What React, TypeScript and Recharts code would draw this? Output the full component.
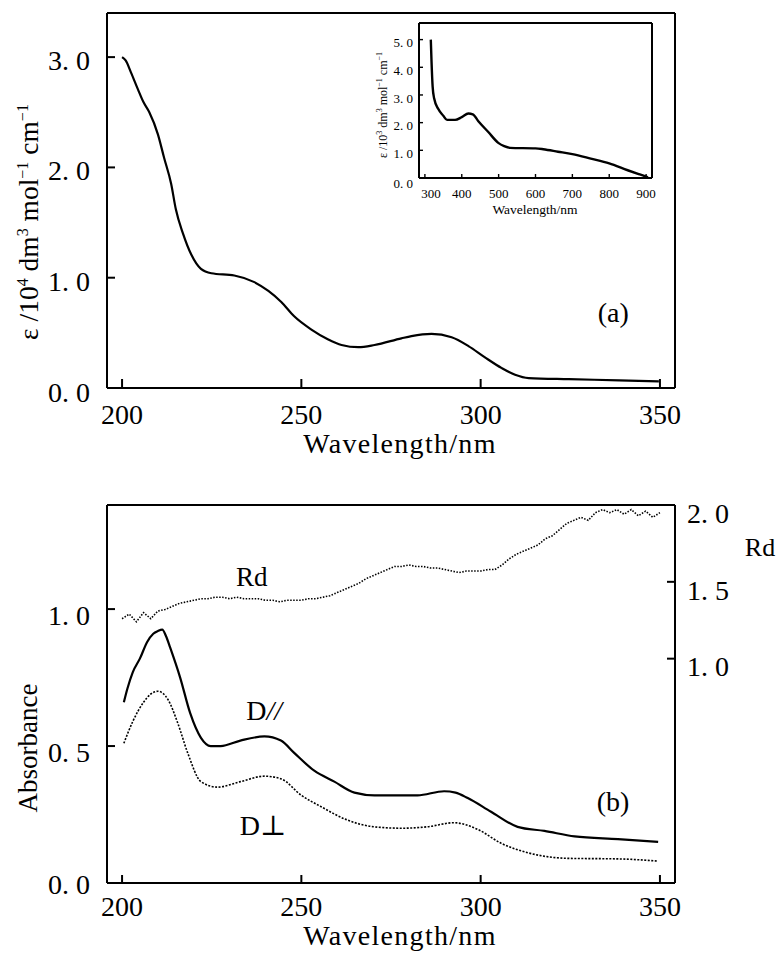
import React from 'react';
import { LineChart, Line, XAxis, YAxis, ReferenceDot } from 'recharts';

const FONT = "'Liberation Serif', 'Times New Roman', 'DejaVu Serif', serif";

// ---------- Panel (a): main spectrum ----------
const wavelengthA = [200, 201, 202.5, 204.4, 206, 207.6, 210, 211.7, 213.7, 215, 217, 219.3, 222, 224.9, 231.3, 236.9, 240.8, 244.4, 248, 252.8, 257.5, 261.2, 265.9, 270.4, 277.9, 280.7, 286.3, 291.9, 296.6, 301.1, 305.9, 309.6, 313.4, 324.6, 338.6, 349.7];
const epsilonA = [3.0, 2.97, 2.86, 2.71, 2.59, 2.5, 2.3, 2.09, 1.85, 1.62, 1.4, 1.21, 1.08, 1.04, 1.02, 0.96, 0.88, 0.78, 0.65, 0.53, 0.44, 0.39, 0.37, 0.39, 0.45, 0.47, 0.49, 0.46, 0.38, 0.28, 0.18, 0.12, 0.09, 0.08, 0.07, 0.06];

// ---------- Inset: visible spectrum ----------
const wavelengthInset = [316, 318, 321, 325, 336, 350, 360, 382, 400, 418, 430, 445, 472, 499, 515, 531, 600, 621, 661, 700, 750, 800, 850, 880, 900, 905];
const epsilonInset = [5.0, 4.2, 3.3, 2.88, 2.5, 2.25, 2.1, 2.1, 2.2, 2.33, 2.3, 2.05, 1.66, 1.27, 1.15, 1.09, 1.07, 1.04, 0.95, 0.86, 0.7, 0.53, 0.28, 0.14, 0.05, 0.02];

// ---------- Panel (b): linear dichroism ----------
const wavelengthPar = [200.5, 201.5, 203, 205, 207, 208.7, 210, 211.2, 212.3, 213.4, 216.2, 219, 222, 224.7, 227.5, 233, 239.7, 244.3, 248, 253.6, 259.2, 264.8, 270.4, 276, 282.4, 289.8, 293, 296.4, 302.9, 310.3, 317.8, 326.2, 338.3, 349.5];
const absPar = [0.66, 0.71, 0.77, 0.82, 0.88, 0.91, 0.92, 0.925, 0.9, 0.86, 0.75, 0.62, 0.53, 0.5, 0.5, 0.52, 0.535, 0.52, 0.475, 0.41, 0.37, 0.33, 0.32, 0.32, 0.32, 0.335, 0.33, 0.31, 0.26, 0.205, 0.19, 0.17, 0.16, 0.15];

const wavelengthPerp = [200.5, 203, 206, 208, 210, 212.8, 215.5, 218.3, 222, 226.6, 233, 239.7, 244.4, 250, 255.3, 262.8, 270.4, 277.9, 285, 292.6, 299.3, 305.7, 313.3, 324.4, 338.4, 349.5];
const absPerp = [0.51, 0.59, 0.66, 0.69, 0.7, 0.67, 0.585, 0.475, 0.37, 0.35, 0.37, 0.39, 0.38, 0.32, 0.28, 0.23, 0.205, 0.2, 0.205, 0.22, 0.195, 0.145, 0.11, 0.09, 0.088, 0.08];

const wavelengthRd = [200, 202, 204, 206, 208, 210, 212, 214, 216, 218, 220, 222, 224, 226, 228, 230, 232, 234, 236, 238, 240, 242, 244, 246, 248, 250, 252, 254, 256, 258, 260, 262, 264, 266, 268, 270, 272, 274, 276, 278, 280, 282, 284, 286, 288, 290, 292, 294, 296, 298, 300, 302, 304, 306, 308, 310, 312, 314, 316, 318, 320, 322, 324, 326, 328, 330, 332, 334, 336, 338, 340, 342, 344, 346, 348, 350];
const rdValues = [1.26, 1.29, 1.24, 1.3, 1.26, 1.31, 1.32, 1.34, 1.36, 1.37, 1.38, 1.39, 1.39, 1.4, 1.4, 1.39, 1.4, 1.39, 1.39, 1.39, 1.38, 1.38, 1.37, 1.38, 1.38, 1.38, 1.39, 1.39, 1.4, 1.41, 1.43, 1.45, 1.47, 1.49, 1.52, 1.54, 1.56, 1.58, 1.6, 1.6, 1.61, 1.6, 1.6, 1.59, 1.59, 1.58, 1.57, 1.56, 1.57, 1.57, 1.57, 1.58, 1.58, 1.61, 1.65, 1.68, 1.7, 1.72, 1.74, 1.78, 1.8, 1.84, 1.88, 1.9, 1.92, 1.9, 1.95, 1.97, 1.95, 1.97, 1.94, 1.97, 1.93, 1.96, 1.92, 1.95];

// ---------- Ticks ----------
const xTicksMain = [200, 250, 300, 350];
const xTickLabelsMain = ['200', '250', '300', '350'];
const yTicksA = [0, 1, 2, 3];
const yTickLabelsA = ['0. 0', '1. 0', '2. 0', '3. 0'];
const yTicksB = [0, 0.5, 1.0];
const yTickLabelsB = ['0. 0', '0. 5', '1. 0'];
const rdTicks = [1.0, 1.5, 2.0];
const rdTickLabels = ['1. 0', '1. 5', '2. 0'];
const insetXTicks = [300, 400, 500, 600, 700, 800, 900];
const insetXTickLabels = ['300', '400', '500', '600', '700', '800', '900'];
const insetYTicks = [0, 1, 2, 3, 4, 5];
const insetYTickLabels = ['0. 0', '1. 0', '2. 0', '3. 0', '4. 0', '5. 0'];

const zip = (xs: number[], ys: number[]) => xs.map((x, i) => ({ x, y: ys[i] }));
const dataA = zip(wavelengthA, epsilonA);
const dataInset = zip(wavelengthInset, epsilonInset);
const dataPar = zip(wavelengthPar, absPar);
const dataPerp = zip(wavelengthPerp, absPerp);
const dataRd = zip(wavelengthRd, rdValues);

type TickOpts = {
  side: 'bottom' | 'left' | 'right';
  len: number;
  lineWidth: number;
  dx?: number;
  dy?: number;
  anchor: 'start' | 'middle' | 'end';
  size: number;
  zeroDy?: number;
  firstDx?: number;
  skipLine?: number[];
};
// Tick renderer: draws an inward tick mark plus the label, at the position the axis gives.
function makeTick(values: number[], labels: string[], o: TickOpts) {
  return (props: any) => {
    const v = props.payload.value;
    const x = Number(props.x);
    const y = Number(props.y);
    const i = values.findIndex((t) => Math.abs(t - v) < 1e-6);
    const label = i >= 0 ? labels[i] : String(v);
    let dy = o.dy ?? 0;
    if (Math.abs(v) < 1e-9 && o.zeroDy) dy += o.zeroDy;
    let dx = o.dx ?? 0;
    if (i === 0 && o.firstDx) dx += o.firstDx;
    let d = `M${x},${y}L${x},${y - o.len}`;
    if (o.side === 'left') d = `M${x},${y}L${x + o.len},${y}`;
    if (o.side === 'right') d = `M${x},${y}L${x - o.len},${y}`;
    const drawLine = o.len > 0 && !(o.skipLine && o.skipLine.some((s) => Math.abs(s - v) < 1e-6));
    return (
      <g>
        {drawLine && <path d={d} stroke="#000" strokeWidth={o.lineWidth} fill="none" />}
        <text x={x + dx} y={y + dy} dy={o.size * 0.35} textAnchor={o.anchor} fontSize={o.size} fontFamily={FONT} fill="#000">
          {label}
        </text>
      </g>
    );
  };
}

const MAIN_X_DOMAIN: [number, number] = [195.8, 354.2];
const FRAME = { stroke: '#000', strokeWidth: 2 };

function textLabel(content: React.ReactNode, size: number) {
  return (props: any) => {
    const vb = props.viewBox || {};
    const cx = (vb.cx ?? vb.x ?? 0) + (vb.width ?? 0) / 2;
    const cy = (vb.cy ?? vb.y ?? 0) + (vb.height ?? 0) / 2;
    return (
      <text x={cx} y={cy} dy={size * 0.35} textAnchor="middle" fontSize={size} fontFamily={FONT} fill="#000">
        {content}
      </text>
    );
  };
}

function PanelA() {
  return (
    <LineChart width={778} height={470} margin={{ top: 12, left: 106, right: 102, bottom: 81 }}>
      <XAxis
        type="number"
        dataKey="x"
        domain={MAIN_X_DOMAIN}
        allowDataOverflow
        ticks={xTicksMain}
        interval={0}
        height={1}
        tickSize={0}
        tickMargin={0}
        axisLine={FRAME}
        tickLine={false}
        tick={makeTick(xTicksMain, xTickLabelsMain, { side: 'bottom', len: 9, lineWidth: 2, anchor: 'middle', size: 28, dy: 26 })}
        label={() => (
          <text x={400} y={443} dy={9.5} textAnchor="middle" fontSize={28} letterSpacing={1.3} fontFamily={FONT} fill="#000">
            Wavelength/nm
          </text>
        )}
      />
      <XAxis xAxisId="top" orientation="top" type="number" domain={MAIN_X_DOMAIN} height={1} tick={false} tickLine={false} axisLine={FRAME} />
      <YAxis
        type="number"
        domain={[0, 3.4]}
        allowDataOverflow
        ticks={yTicksA}
        interval={0}
        width={1}
        tickSize={0}
        tickMargin={0}
        axisLine={FRAME}
        tickLine={false}
        tick={makeTick(yTicksA, yTickLabelsA, { side: 'left', len: 8, lineWidth: 2, anchor: 'end', size: 28, dx: -17, dy: 3, zeroDy: 1, skipLine: [0] })}
        label={() => (
          <text transform="rotate(-90, 29, 222)" x={29} y={222} dy={9} textAnchor="middle" fontSize={27.5} fontFamily={FONT} fill="#000">
            ε /10<tspan dy={-10} fontSize={16}>4</tspan>
            <tspan dy={10}> dm</tspan>
            <tspan dy={-10} fontSize={16}>3</tspan>
            <tspan dy={10}> mol</tspan>
            <tspan dy={-10} fontSize={16}>−1</tspan>
            <tspan dy={10}> cm</tspan>
            <tspan dy={-10} fontSize={16}>−1</tspan>
          </text>
        )}
      />
      <YAxis yAxisId="right" orientation="right" type="number" domain={[0, 1]} width={1} tick={false} tickLine={false} axisLine={FRAME} />
      <Line data={dataA} dataKey="y" type="monotone" stroke="#000" strokeWidth={2.2} dot={false} activeDot={false} isAnimationActive={false} />
      <ReferenceDot x={337} y={0.69} r={0} fill="none" stroke="none" label={textLabel('(a)', 28)} />
    </LineChart>
  );
}

function Inset() {
  return (
    <LineChart width={340} height={230} margin={{ top: 22, left: 78, right: 27, bottom: 51 }}>
      <XAxis
        type="number"
        dataKey="x"
        domain={[284, 916]}
        allowDataOverflow
        ticks={insetXTicks}
        interval={0}
        height={1}
        tickSize={0}
        tickMargin={0}
        axisLine={FRAME}
        tickLine={false}
        tick={makeTick(insetXTicks, insetXTickLabels, { side: 'bottom', len: 4, lineWidth: 1.4, anchor: 'middle', size: 13, dy: 15, firstDx: 6 })}
        label={() => (
          <text x={195} y={209} dy={4.5} textAnchor="middle" fontSize={13.5} fontFamily={FONT} fill="#000">
            Wavelength/nm
          </text>
        )}
      />
      <XAxis xAxisId="top" orientation="top" type="number" domain={[284, 916]} height={1} tick={false} tickLine={false} axisLine={FRAME} />
      <YAxis
        type="number"
        domain={[0, 5.6]}
        allowDataOverflow
        ticks={insetYTicks}
        interval={0}
        width={1}
        tickSize={0}
        tickMargin={0}
        axisLine={FRAME}
        tickLine={false}
        tick={makeTick(insetYTicks, insetYTickLabels, { side: 'left', len: 4, lineWidth: 1.4, anchor: 'end', size: 13, dx: -6, dy: 3, zeroDy: 2, skipLine: [0] })}
        label={() => (
          <text transform="rotate(-90, 43, 105)" x={43} y={105} dy={4} textAnchor="middle" fontSize={12} fontFamily={FONT} fill="#000">
            ε /10<tspan dy={-5} fontSize={8}>3</tspan>
            <tspan dy={5}> dm</tspan>
            <tspan dy={-5} fontSize={8}>3</tspan>
            <tspan dy={5}> mol</tspan>
            <tspan dy={-5} fontSize={8}>−1</tspan>
            <tspan dy={5}> cm</tspan>
            <tspan dy={-5} fontSize={8}>−1</tspan>
          </text>
        )}
      />
      <YAxis yAxisId="right" orientation="right" type="number" domain={[0, 1]} width={1} tick={false} tickLine={false} axisLine={FRAME} />
      <Line data={dataInset} dataKey="y" type="monotone" stroke="#000" strokeWidth={2.4} dot={false} activeDot={false} isAnimationActive={false} />
    </LineChart>
  );
}

function PanelB() {
  return (
    <LineChart width={778} height={483} margin={{ top: 34, left: 106, right: 102, bottom: 69 }}>
      <XAxis
        type="number"
        dataKey="x"
        domain={MAIN_X_DOMAIN}
        allowDataOverflow
        ticks={xTicksMain}
        interval={0}
        height={1}
        tickSize={0}
        tickMargin={0}
        axisLine={FRAME}
        tickLine={false}
        tick={makeTick(xTicksMain, xTickLabelsMain, { side: 'bottom', len: 8, lineWidth: 2, anchor: 'middle', size: 28, dy: 23 })}
        label={() => (
          <text x={400} y={465} dy={9.5} textAnchor="middle" fontSize={28} letterSpacing={1.3} fontFamily={FONT} fill="#000">
            Wavelength/nm
          </text>
        )}
      />
      <XAxis xAxisId="top" orientation="top" type="number" domain={MAIN_X_DOMAIN} height={1} tick={false} tickLine={false} axisLine={FRAME} />
      <YAxis
        type="number"
        domain={[0, 1.38]}
        allowDataOverflow
        ticks={yTicksB}
        interval={0}
        width={1}
        tickSize={0}
        tickMargin={0}
        axisLine={FRAME}
        tickLine={false}
        tick={makeTick(yTicksB, yTickLabelsB, { side: 'left', len: 8, lineWidth: 2, anchor: 'end', size: 28, dx: -17, dy: 6, zeroDy: -5, skipLine: [0] })}
        label={() => (
          <text transform="rotate(-90, 28, 278)" x={28} y={278} dy={9} textAnchor="middle" fontSize={27} fontFamily={FONT} fill="#000">
            Absorbance
          </text>
        )}
      />
      <YAxis
        yAxisId="right"
        orientation="right"
        type="number"
        domain={[-0.46, 2.0]}
        allowDataOverflow
        ticks={rdTicks}
        interval={0}
        width={1}
        tickSize={0}
        tickMargin={0}
        axisLine={FRAME}
        tickLine={false}
        tick={makeTick(rdTicks, rdTickLabels, { side: 'right', len: 8, lineWidth: 2, anchor: 'start', size: 28, dx: 12, dy: 8, skipLine: [2.0] })}
        label={() => (
          <text x={760} y={77} dy={9} textAnchor="middle" fontSize={26} fontFamily={FONT} fill="#000">
            Rd
          </text>
        )}
      />
      <Line data={dataRd} dataKey="y" yAxisId="right" type="linear" stroke="#000" strokeWidth={1.6} strokeDasharray="1.5 1.5" dot={false} activeDot={false} isAnimationActive={false} />
      <Line data={dataPar} dataKey="y" type="monotone" stroke="#000" strokeWidth={2.2} dot={false} activeDot={false} isAnimationActive={false} />
      <Line data={dataPerp} dataKey="y" type="monotone" stroke="#000" strokeWidth={1.6} strokeDasharray="2 1.5" dot={false} activeDot={false} isAnimationActive={false} />
      <ReferenceDot x={236.2} y={1.12} r={0} fill="none" stroke="none" label={textLabel('Rd', 27)} />
      <ReferenceDot
        x={239.6}
        y={0.63}
        r={0}
        fill="none"
        stroke="none"
        label={textLabel(<>D<tspan fontStyle="italic">//</tspan></>, 28)}
      />
      <ReferenceDot x={239.3} y={0.21} r={0} fill="none" stroke="none" label={textLabel('D⊥', 28)} />
      <ReferenceDot x={336.9} y={0.3} r={0} fill="none" stroke="none" label={textLabel('(b)', 28)} />
    </LineChart>
  );
}

export default function App() {
  return (
    <div style={{ position: 'absolute', left: 0, top: 0, width: 778, height: 953, background: '#fff', fontFamily: FONT }}>
      <div style={{ position: 'absolute', left: 0, top: 0 }}>
        <PanelA />
      </div>
      <div style={{ position: 'absolute', left: 340, top: 0 }}>
        <Inset />
      </div>
      <div style={{ position: 'absolute', left: 0, top: 470 }}>
        <PanelB />
      </div>
    </div>
  );
}
